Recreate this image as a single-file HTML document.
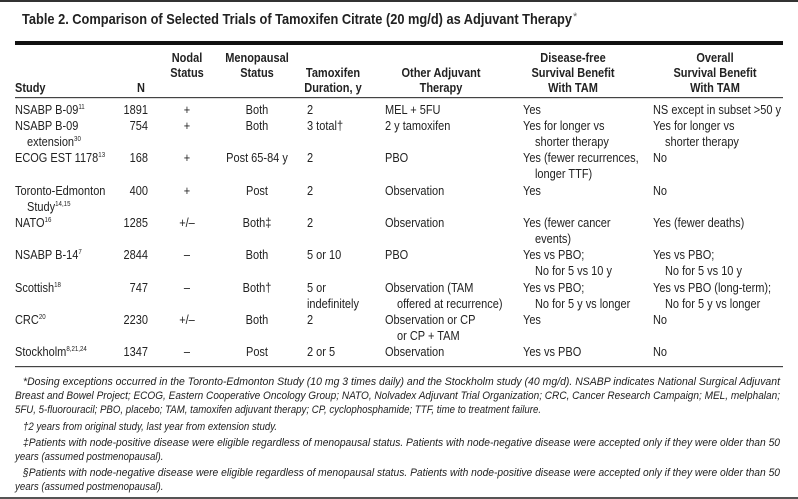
<!DOCTYPE html>
<html><head><meta charset="utf-8"><style>
html,body{margin:0;padding:0;background:#fff;}
svg{display:block;}
text{font-family:"Liberation Sans Narrow","Liberation Sans",sans-serif;fill:#222;font-size:12.5px;}
.h{font-weight:bold;}
.c{text-anchor:middle;}
.r{text-anchor:end;}
.f{font-style:italic;font-size:11px;}
.s{font-size:7px;}
</style></head><body>
<svg width="798" height="499" viewBox="0 0 798 499" xmlns="http://www.w3.org/2000/svg">
<rect x="0" y="0" width="798" height="2" fill="#333"/>
<text x="22" y="24" class="h" style="font-size:15px" textLength="550" lengthAdjust="spacingAndGlyphs">Table 2. Comparison of Selected Trials of Tamoxifen Citrate (20 mg/d) as Adjuvant Therapy</text>
<text x="573" y="20" style="font-size:11px;fill:#666">*</text>
<rect x="15" y="41" width="768" height="4" fill="#111"/>
<g transform="scale(0.88,1)">
<text x="17.05" y="92" class="h">Study</text>
<text x="160.23" y="92" class="h c">N</text>
<text x="212.5" y="62" class="h c">Nodal</text><text x="212.5" y="77" class="h c">Status</text>
<text x="292.05" y="62" class="h c">Menopausal</text><text x="292.05" y="77" class="h c">Status</text>
<text x="378.41" y="77" class="h c">Tamoxifen</text><text x="378.41" y="92" class="h c">Duration, y</text>
<text x="501.14" y="77" class="h c">Other Adjuvant</text><text x="501.14" y="92" class="h c">Therapy</text>
<text x="651.14" y="62" class="h c">Disease-free</text><text x="651.14" y="77" class="h c">Survival Benefit</text><text x="651.14" y="92" class="h c">With TAM</text>
<text x="812.5" y="62" class="h c">Overall</text><text x="812.5" y="77" class="h c">Survival Benefit</text><text x="812.5" y="92" class="h c">With TAM</text>

<text x="17.05" y="114">NSABP B-09<tspan class="s" dy="-5">11</tspan></text>
<text x="168.18" y="114" class="r">1891</text><text x="212.5" y="114" class="c">+</text><text x="292.05" y="114" class="c">Both</text>
<text x="348.86" y="114">2</text><text x="437.5" y="114">MEL + 5FU</text><text x="594.32" y="114">Yes</text>
<text x="742.05" y="114">NS except in subset &gt;50 y</text>

<text x="17.05" y="130">NSABP B-09</text>
<text x="168.18" y="130" class="r">754</text><text x="212.5" y="130" class="c">+</text><text x="292.05" y="130" class="c">Both</text>
<text x="348.86" y="130">3 total†</text><text x="437.5" y="130">2 y tamoxifen</text><text x="594.32" y="130">Yes for longer vs</text>
<text x="742.05" y="130">Yes for longer vs</text>
<text x="30.68" y="146">extension<tspan class="s" dy="-5">30</tspan></text>
<text x="607.95" y="146">shorter therapy</text><text x="755.68" y="146">shorter therapy</text>

<text x="17.05" y="162">ECOG EST 1178<tspan class="s" dy="-5">13</tspan></text>
<text x="168.18" y="162" class="r">168</text><text x="212.5" y="162" class="c">+</text><text x="292.05" y="162" class="c">Post 65-84 y</text>
<text x="348.86" y="162">2</text><text x="437.5" y="162">PBO</text><text x="594.32" y="162">Yes (fewer recurrences,</text>
<text x="742.05" y="162">No</text>
<text x="607.95" y="178">longer TTF)</text>

<text x="17.05" y="195">Toronto-Edmonton</text>
<text x="168.18" y="195" class="r">400</text><text x="212.5" y="195" class="c">+</text><text x="292.05" y="195" class="c">Post</text>
<text x="348.86" y="195">2</text><text x="437.5" y="195">Observation</text><text x="594.32" y="195">Yes</text><text x="742.05" y="195">No</text>
<text x="30.68" y="211">Study<tspan class="s" dy="-5">14,15</tspan></text>

<text x="17.05" y="227">NATO<tspan class="s" dy="-5">16</tspan></text>
<text x="168.18" y="227" class="r">1285</text><text x="212.5" y="227" class="c">+/–</text><text x="292.05" y="227" class="c">Both‡</text>
<text x="348.86" y="227">2</text><text x="437.5" y="227">Observation</text><text x="594.32" y="227">Yes (fewer cancer</text>
<text x="742.05" y="227">Yes (fewer deaths)</text>
<text x="607.95" y="243">events)</text>

<text x="17.05" y="259">NSABP B-14<tspan class="s" dy="-5">7</tspan></text>
<text x="168.18" y="259" class="r">2844</text><text x="212.5" y="259" class="c">–</text><text x="292.05" y="259" class="c">Both</text>
<text x="348.86" y="259">5 or 10</text><text x="437.5" y="259">PBO</text><text x="594.32" y="259">Yes vs PBO;</text>
<text x="742.05" y="259">Yes vs PBO;</text>
<text x="607.95" y="275">No for 5 vs 10 y</text><text x="755.68" y="275">No for 5 vs 10 y</text>

<text x="17.05" y="292">Scottish<tspan class="s" dy="-5">18</tspan></text>
<text x="168.18" y="292" class="r">747</text><text x="212.5" y="292" class="c">–</text><text x="292.05" y="292" class="c">Both†</text>
<text x="348.86" y="292">5 or</text><text x="437.5" y="292">Observation (TAM</text><text x="594.32" y="292">Yes vs PBO;</text>
<text x="742.05" y="292">Yes vs PBO (long-term);</text>
<text x="348.86" y="308">indefinitely</text><text x="451.14" y="308">offered at recurrence)</text>
<text x="607.95" y="308">No for 5 y vs longer</text><text x="755.68" y="308">No for 5 y vs longer</text>

<text x="17.05" y="324">CRC<tspan class="s" dy="-5">20</tspan></text>
<text x="168.18" y="324" class="r">2230</text><text x="212.5" y="324" class="c">+/–</text><text x="292.05" y="324" class="c">Both</text>
<text x="348.86" y="324">2</text><text x="437.5" y="324">Observation or CP</text><text x="594.32" y="324">Yes</text><text x="742.05" y="324">No</text>
<text x="451.14" y="340">or CP + TAM</text>

<text x="17.05" y="356">Stockholm<tspan class="s" dy="-5">8,21,24</tspan></text>
<text x="168.18" y="356" class="r">1347</text><text x="212.5" y="356" class="c">–</text><text x="292.05" y="356" class="c">Post</text>
<text x="348.86" y="356">2 or 5</text><text x="437.5" y="356">Observation</text><text x="594.32" y="356">Yes vs PBO</text><text x="742.05" y="356">No</text>
</g>
<rect x="15" y="97" width="768" height="1.2" fill="#444"/>
<rect x="15" y="366" width="768" height="1.2" fill="#444"/>
<g>
<text x="23" y="385" class="f" textLength="757" lengthAdjust="spacingAndGlyphs">*Dosing exceptions occurred in the Toronto-Edmonton Study (10 mg 3 times daily) and the Stockholm study (40 mg/d). NSABP indicates National Surgical Adjuvant</text>
<text x="15" y="399" class="f" textLength="765" lengthAdjust="spacingAndGlyphs">Breast and Bowel Project; ECOG, Eastern Cooperative Oncology Group; NATO, Nolvadex Adjuvant Trial Organization; CRC, Cancer Research Campaign; MEL, melphalan;</text>
<text x="23" y="446" class="f" textLength="757" lengthAdjust="spacingAndGlyphs">‡Patients with node-positive disease were eligible regardless of menopausal status. Patients with node-negative disease were accepted only if they were older than 50</text>
<text x="23" y="476" class="f" textLength="757" lengthAdjust="spacingAndGlyphs">§Patients with node-negative disease were eligible regardless of menopausal status. Patients with node-positive disease were accepted only if they were older than 50</text>
</g>
<g transform="scale(0.88,1)">
<text x="17.05" y="413" class="f">5FU, 5-fluorouracil; PBO, placebo; TAM, tamoxifen adjuvant therapy; CP, cyclophosphamide; TTF, time to treatment failure.</text>
<text x="26.14" y="430" class="f">†2 years from original study, last year from extension study.</text>
<text x="17.05" y="460" class="f">years (assumed postmenopausal).</text>
<text x="17.05" y="490" class="f">years (assumed postmenopausal).</text>
</g>
<rect x="0" y="497" width="798" height="2" fill="#555"/>
</svg>
</body></html>
